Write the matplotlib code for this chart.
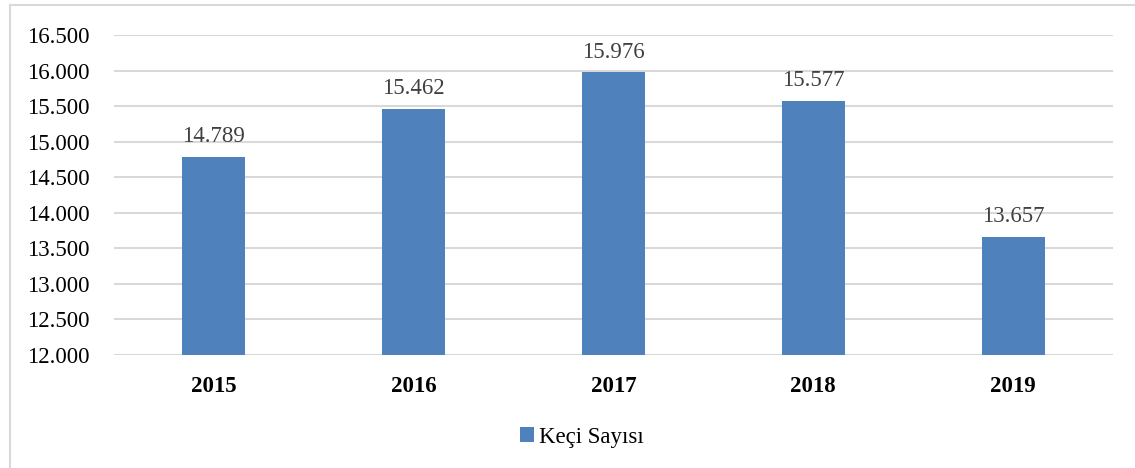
import matplotlib
matplotlib.use('Agg')
import matplotlib.pyplot as plt
from matplotlib.lines import Line2D
from matplotlib.ticker import FuncFormatter

# veriler
years = ['2015', '2016', '2017', '2018', '2019']
keci_sayisi = [14789, 15462, 15976, 15577, 13657]
series_name = 'Keçi Sayısı'

plt.rcParams['font.family'] = ['Liberation Serif', 'DejaVu Serif']
plt.rcParams['font.size'] = 16.5

bar_color = '#4F81BD'
grid_color = '#D9D9D9'


def dot_fmt(v, pos=None):
    return f"{int(round(v)):,}".replace(',', '.')


fig = plt.figure(figsize=(11.35, 4.68), dpi=100)
ax = fig.add_axes([114 / 1135, 1 - 355 / 468, (1113 - 114) / 1135, (355 - 35) / 468])

x = range(len(years))
ax.bar(x, keci_sayisi, width=0.315, color=bar_color, label=series_name, zorder=3)

ax.set_xlim(-0.5, len(years) - 0.5)
ax.set_ylim(12000, 16500)
ax.set_yticks(range(12000, 16501, 500))
ax.yaxis.set_major_formatter(FuncFormatter(dot_fmt))
ax.set_xticks(list(x))
ax.set_xticklabels(years, fontweight='bold')

for s in ax.spines.values():
    s.set_visible(False)
ax.tick_params(axis='both', length=0, colors='black')
ax.tick_params(axis='y', pad=17.5)
ax.tick_params(axis='x', pad=15)
ax.grid(axis='y', color=grid_color, linewidth=1.5, zorder=0)

# değer etiketleri
for xi, v in zip(x, keci_sayisi):
    ax.annotate(dot_fmt(v), (xi, v), xytext=(0, 7), textcoords='offset points',
                ha='center', va='bottom', color='#404040')

# lejant
fig.legend(loc='center', bbox_to_anchor=(582 / 1135, 1 - 437 / 468), frameon=False,
           handlelength=0.6, handleheight=0.6, handletextpad=0.2)

# çerçeve (üst ve sol kenar)
fig.add_artist(Line2D([10 / 1135, 10 / 1135], [0, 1 - 5 / 468], color=grid_color, lw=1.5,
                      transform=fig.transFigure))
fig.add_artist(Line2D([10 / 1135, 1], [1 - 5 / 468, 1 - 5 / 468], color=grid_color, lw=1.5,
                      transform=fig.transFigure))

fig.savefig('out.png', dpi=100)
plt.close(fig)
